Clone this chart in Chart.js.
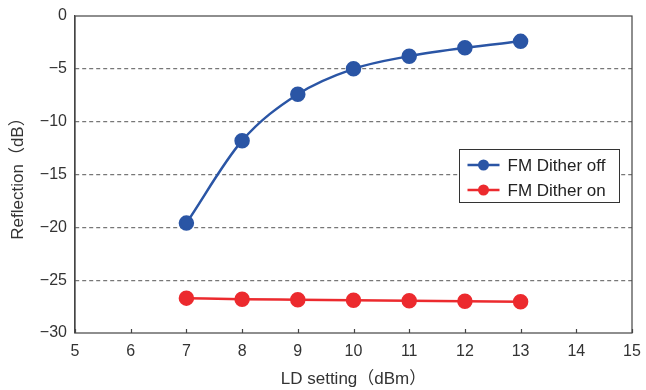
<!DOCTYPE html>
<html>
<head>
<meta charset="utf-8">
<script src="https://cdn.jsdelivr.net/npm/chart.js@4/dist/chart.umd.min.js"></script>
<style>
  html, body { margin: 0; padding: 0; background: #fff; }
  #wrap { width: 646px; height: 390px; }
</style>
</head>
<body>
<div id="wrap"><canvas id="c" width="646" height="390"></canvas></div>
<script>
// LD setting (dBm) and measured reflection (dB)
const ldSetting = [7, 8, 9, 10, 11, 12, 13];
const ditherOff = [-19.6, -11.8, -7.4, -5.0, -3.8, -3.0, -2.4];
const ditherOn = [-26.7, -26.8, -26.85, -26.9, -26.95, -27.0, -27.05];
const seriesNames = ['FM Dither off', 'FM Dither on'];
const xTitle = 'LD setting（dBm）';
const yTitle = 'Reflection（dB）';

const BLUE = '#2a55a5';
const RED = '#ec2a2e';
const INK = '#333333';
const FONT = '"Liberation Sans", Arial, "Noto Sans CJK JP", sans-serif';

const toPoints = ys => ldSetting.map((x, i) => ({ x, y: ys[i] }));
const fmtMinus = v => (v < 0 ? '\u2212' + Math.abs(v) : String(v));

// Frame, inward x ticks and the in-plot legend
const framePlugin = {
  id: 'frame',
  afterDatasetsDraw(chart) {
    const { ctx, chartArea: a, scales } = chart;
    ctx.save();
    ctx.strokeStyle = '#444';
    ctx.lineWidth = 1.2;
    ctx.strokeRect(a.left, a.top, a.right - a.left, a.bottom - a.top);
    // inward tick marks on the x axis
    ctx.beginPath();
    scales.x.ticks.forEach(t => {
      const px = Math.round(scales.x.getPixelForValue(t.value)) + 0.5;
      ctx.moveTo(px, a.bottom);
      ctx.lineTo(px, a.bottom - 4);
    });
    ctx.stroke();

    // legend box
    const bx = 459.5, by = 149.5, bw = 160, bh = 53;
    ctx.fillStyle = '#fff';
    ctx.fillRect(bx, by, bw, bh);
    ctx.strokeStyle = '#333';
    ctx.lineWidth = 1;
    ctx.strokeRect(bx, by, bw, bh);
    const colors = [BLUE, RED];
    ctx.font = '17px ' + FONT;
    ctx.textBaseline = 'middle';
    seriesNames.forEach((name, i) => {
      const y = by + 15.5 + i * 25;
      ctx.strokeStyle = colors[i];
      ctx.lineWidth = 2.5;
      ctx.beginPath();
      ctx.moveTo(bx + 8, y);
      ctx.lineTo(bx + 40, y);
      ctx.stroke();
      ctx.fillStyle = colors[i];
      ctx.beginPath();
      ctx.arc(bx + 24, y, 5.5, 0, Math.PI * 2);
      ctx.fill();
      ctx.fillStyle = '#222';
      ctx.fillText(name, bx + 48, y + 1);
    });
    ctx.restore();
  }
};

new Chart(document.getElementById('c'), {
  type: 'line',
  data: {
    datasets: [
      {
        label: seriesNames[0],
        data: toPoints(ditherOff),
        borderColor: BLUE,
        backgroundColor: BLUE,
        borderWidth: 2.5,
        pointRadius: 6.5,
        pointHoverRadius: 6.5,
        cubicInterpolationMode: 'monotone'
      },
      {
        label: seriesNames[1],
        data: toPoints(ditherOn),
        borderColor: RED,
        backgroundColor: RED,
        borderWidth: 2.5,
        pointRadius: 6.5,
        pointHoverRadius: 6.5,
        cubicInterpolationMode: 'monotone'
      }
    ]
  },
  options: {
    responsive: false,
    animation: false,
    events: [],
    layout: { padding: { top: 16, right: 14, left: 0, bottom: 0 } },
    plugins: {
      legend: { display: false },
      tooltip: { enabled: false }
    },
    scales: {
      x: {
        type: 'linear',
        min: 5,
        max: 15,
        afterFit(s) { s.height = 57; s.paddingLeft = 0; s.paddingRight = 0; },
        ticks: {
          stepSize: 1,
          color: INK,
          font: { family: FONT, size: 16 },
          padding: 9,
          maxRotation: 0
        },
        grid: { display: false, drawTicks: false },
        border: { display: false },
        title: {
          display: true,
          text: xTitle,
          color: INK,
          font: { family: FONT, size: 17 },
          padding: { top: 2, bottom: 0 }
        }
      },
      y: {
        type: 'linear',
        min: -30,
        max: 0,
        afterFit(s) { s.width = 75; s.paddingTop = 0; s.paddingBottom = 0; },
        ticks: {
          stepSize: 5,
          color: INK,
          font: { family: FONT, size: 16 },
          padding: 8,
          callback: v => fmtMinus(v)
        },
        grid: {
          drawTicks: false,
          color: ctx => (ctx.tick && (ctx.tick.value === 0 || ctx.tick.value === -30)) ? 'rgba(0,0,0,0)' : '#777',
          lineWidth: 1.2
        },
        border: { display: true, color: '#444', width: 1.2, dash: [4, 3] },
        title: {
          display: true,
          text: yTitle,
          color: INK,
          font: { family: FONT, size: 17 },
          padding: { top: 8, bottom: 0 }
        }
      }
    }
  },
  plugins: [framePlugin]
});
</script>
</body>
</html>
